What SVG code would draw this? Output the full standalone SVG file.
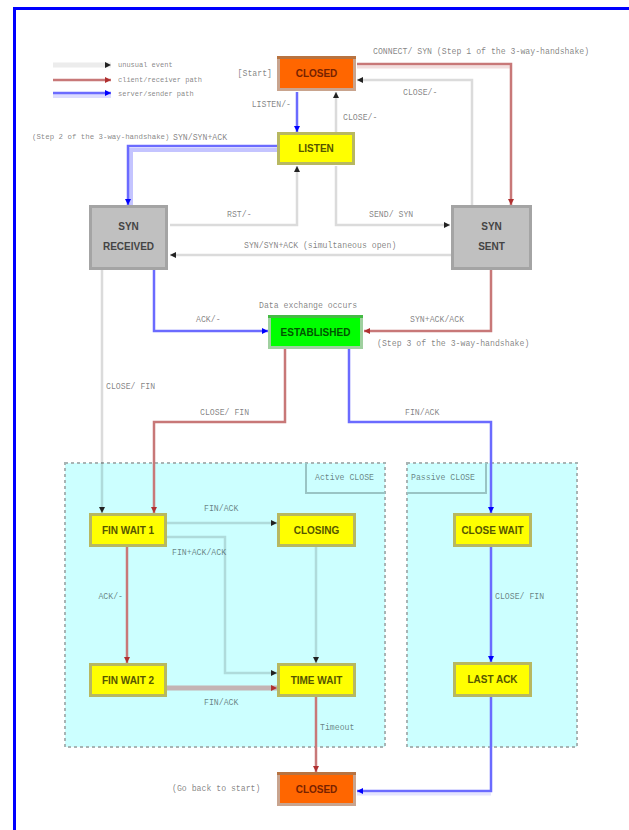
<svg xmlns="http://www.w3.org/2000/svg" width="629" height="830" viewBox="0 0 629 830">
<style>
.lbl{font-family:"Liberation Mono",monospace;font-size:8.2px;fill:#000;fill-opacity:.5}
.leg{font-family:"Liberation Mono",monospace;font-size:7px;fill:#000;fill-opacity:.5}
.nt{font-family:"Liberation Sans",Arial,sans-serif;font-size:10px;font-weight:bold;text-anchor:middle}
.u{fill:none;stroke:#000;stroke-opacity:.14;stroke-width:2.5}
.c{fill:none;stroke:#c87878;stroke-width:2.5}
.s{fill:none;stroke:#6b6bff;stroke-width:2.5}
.yel{fill:#ffff00;stroke:#b8b860;stroke-width:3}
.gry{fill:#c0c0c0;stroke:#a4a4a4;stroke-width:3}
.org{fill:#ff6600;stroke:#c9a48e;stroke-width:3}
.grn{fill:#00ff00;stroke:#9fd09f;stroke-width:3}
.zone{fill:#ccffff;stroke:#a8b4b4;stroke-width:2;stroke-dasharray:3 3}
.zl{fill:none;stroke:#99c4c4;stroke-width:2}
</style>
<defs>
<marker id="au" viewBox="0 0 6 6" refX="6" refY="3" markerWidth="6" markerHeight="6" markerUnits="userSpaceOnUse" orient="auto"><path d="M0,0 L6,3 L0,6 z" fill="#222"/></marker>
<marker id="ac" viewBox="0 0 6 6" refX="6" refY="3" markerWidth="6" markerHeight="6" markerUnits="userSpaceOnUse" orient="auto"><path d="M0,0 L6,3 L0,6 z" fill="#b03030"/></marker>
<marker id="as" viewBox="0 0 6 6" refX="6" refY="3" markerWidth="6" markerHeight="6" markerUnits="userSpaceOnUse" orient="auto"><path d="M0,0 L6,3 L0,6 z" fill="#0000ff"/></marker>
</defs>
<rect x="14.5" y="8.5" width="700" height="900" fill="#fff" stroke="#0000ff" stroke-width="3"/>

<g id="legend">
<line x1="53" y1="65" x2="111" y2="65" stroke="#ececec" stroke-width="5" marker-end="url(#au)"/>
<line x1="53" y1="80" x2="111" y2="80" class="c" stroke-width="3.5" marker-end="url(#ac)"/>
<line x1="53" y1="96" x2="111" y2="96" stroke="#dcdcff" stroke-width="4"/>
<line x1="53" y1="93" x2="111" y2="93" class="s" stroke-width="3.5" marker-end="url(#as)"/>
<text class="leg" x="118" y="67">unusual event</text>
<text class="leg" x="118" y="82">client/receiver path</text>
<text class="leg" x="118" y="96">server/sender path</text>
</g>

<g id="zones">
<rect class="zone" x="65" y="463" width="320" height="284"/>
<path class="zl" d="M306,463 V493 H385"/>
<text class="lbl" x="315" y="480" fill-opacity=".55">Active CLOSE</text>
<rect class="zone" x="407" y="463" width="170" height="284"/>
<path class="zl" d="M407,493 H486 V463"/>
<text class="lbl" x="411" y="480" fill-opacity=".55">Passive CLOSE</text>
</g>

<g id="connectors">
<path d="M357,67 H511" stroke="#f2dede" stroke-width="3" fill="none"/>
<path class="c" d="M357,64 H511 V205" marker-end="url(#ac)"/>
<text class="lbl" x="373" y="54">CONNECT/ SYN  (Step 1 of the 3-way-handshake)</text>

<path class="u" d="M472,205 V80 H357" marker-end="url(#au)"/>
<text class="lbl" x="403" y="95">CLOSE/-</text>

<path class="s" d="M297,92 V132" marker-end="url(#as)"/>
<text class="lbl" x="291" y="107" text-anchor="end">LISTEN/-</text>

<path class="u" d="M336,132 V92" marker-end="url(#au)"/>
<text class="lbl" x="343" y="120">CLOSE/-</text>

<path d="M277,150 H131 V205" stroke="#c4c4ff" stroke-width="4" fill="none"/>
<path class="s" d="M277,146 H128 V205" marker-end="url(#as)" stroke="#9999ff" stroke-width="3"/>
<text class="lbl" x="32" y="139" style="font-size:7.4px">(Step 2 of the 3-way-handshake)</text>
<text class="lbl" x="173" y="140">SYN/SYN+ACK</text>

<path class="u" d="M170,225 H297 V166" marker-end="url(#au)"/>
<text class="lbl" x="227" y="217">RST/-</text>

<path class="u" d="M336,166 V225 H450" marker-end="url(#au)"/>
<text class="lbl" x="369" y="217">SEND/ SYN</text>

<path class="u" d="M451,255 H170" marker-end="url(#au)"/>
<text class="lbl" x="244" y="248">SYN/SYN+ACK (simultaneous open)</text>

<path class="s" d="M154,270 V331 H268" marker-end="url(#as)"/>
<text class="lbl" x="196" y="322">ACK/-</text>

<path class="c" d="M491,270 V331 H364" marker-end="url(#ac)"/>
<text class="lbl" x="410" y="322">SYN+ACK/ACK</text>
<text class="lbl" x="377" y="346">(Step 3 of the 3-way-handshake)</text>
<text class="lbl" x="259" y="308">Data exchange occurs</text>

<path class="u" d="M102,270 V513" marker-end="url(#au)"/>
<text class="lbl" x="106" y="389">CLOSE/ FIN</text>

<path class="c" d="M285,349 V422 H154 V513" marker-end="url(#ac)" stroke="#d8a0a0"/>
<text class="lbl" x="200" y="415">CLOSE/ FIN</text>

<path class="s" d="M349,349 V422 H491 V513" marker-end="url(#as)"/>
<text class="lbl" x="405" y="415">FIN/ACK</text>

<path class="u" d="M167,523 H277" marker-end="url(#au)" stroke-width="3"/>
<text class="lbl" x="204" y="511">FIN/ACK</text>

<path class="u" d="M167,537 H225 V673 H277" marker-end="url(#au)"/>
<text class="lbl" x="172" y="555">FIN+ACK/ACK</text>

<path class="c" d="M127,547 V663" marker-end="url(#ac)"/>
<text class="lbl" x="123" y="599" text-anchor="end">ACK/-</text>

<path class="u" d="M316,547 V663" marker-end="url(#au)"/>

<path d="M167,688 H277" stroke="#c4b4b4" stroke-width="5" fill="none" marker-end="url(#ac)"/>
<text class="lbl" x="204" y="705">FIN/ACK</text>

<path class="c" d="M316,697 V772" marker-end="url(#ac)"/>
<text class="lbl" x="320" y="730">Timeout</text>

<path class="s" d="M491,547 V662" marker-end="url(#as)"/>
<text class="lbl" x="495" y="599">CLOSE/ FIN</text>

<path d="M491,794 H357" stroke="#e4e4ff" stroke-width="3" fill="none"/>
<path class="s" d="M491,697 V791 H357" marker-end="url(#as)"/>
<text class="lbl" x="172" y="791">(Go back to start)</text>
<text class="lbl" x="272" y="76" text-anchor="end">[Start]</text>
</g>

<g id="closed-top">
<rect class="org" x="278.5" y="57.5" width="76" height="32"/>
<line x1="277" y1="57.5" x2="356" y2="57.5" stroke="#b87340" stroke-width="3"/>
<text class="nt" x="316.5" y="77" fill="#772200">CLOSED</text>
</g>
<g id="listen">
<rect class="yel" x="278.5" y="133.5" width="75" height="30"/>
<text class="nt" x="316" y="152" fill="#555500">LISTEN</text>
</g>
<g id="syn-received">
<rect class="gry" x="90.5" y="206.5" width="76" height="62"/>
<text class="nt" x="128.5" y="230" fill="#444">SYN</text>
<text class="nt" x="128.5" y="250" fill="#444">RECEIVED</text>
</g>
<g id="syn-sent">
<rect class="gry" x="452.5" y="206.5" width="78" height="62"/>
<text class="nt" x="491.5" y="230" fill="#444">SYN</text>
<text class="nt" x="491.5" y="250" fill="#444">SENT</text>
</g>
<g id="established">
<rect class="grn" x="269.5" y="316.5" width="92" height="31"/>
<line x1="268" y1="316.5" x2="363" y2="316.5" stroke="#44bb44" stroke-width="3"/>
<text class="nt" x="315.5" y="335.5" fill="#005500">ESTABLISHED</text>
</g>
<g id="fin-wait-1">
<rect class="yel" x="90.5" y="514.5" width="75" height="31"/>
<text class="nt" x="128" y="533.5" fill="#555500">FIN WAIT 1</text>
</g>
<g id="closing">
<rect class="yel" x="278.5" y="514.5" width="76" height="31"/>
<text class="nt" x="316.5" y="533.5" fill="#555500">CLOSING</text>
</g>
<g id="close-wait">
<rect class="yel" x="454.5" y="514.5" width="76" height="31"/>
<text class="nt" x="492.5" y="533.5" fill="#555500">CLOSE WAIT</text>
</g>
<g id="fin-wait-2">
<rect class="yel" x="90.5" y="664.5" width="75" height="31"/>
<text class="nt" x="128" y="683.5" fill="#555500">FIN WAIT 2</text>
</g>
<g id="time-wait">
<rect class="yel" x="278.5" y="664.5" width="76" height="31"/>
<text class="nt" x="316.5" y="683.5" fill="#555500">TIME WAIT</text>
</g>
<g id="last-ack">
<rect class="yel" x="454.5" y="663.5" width="76" height="32"/>
<text class="nt" x="492.5" y="683" fill="#555500">LAST ACK</text>
</g>
<g id="closed-bottom">
<rect class="org" x="278.5" y="773.5" width="76" height="31"/>
<line x1="277" y1="773.5" x2="356" y2="773.5" stroke="#b87340" stroke-width="3"/>
<text class="nt" x="316.5" y="792.5" fill="#772200">CLOSED</text>
</g>
</svg>
